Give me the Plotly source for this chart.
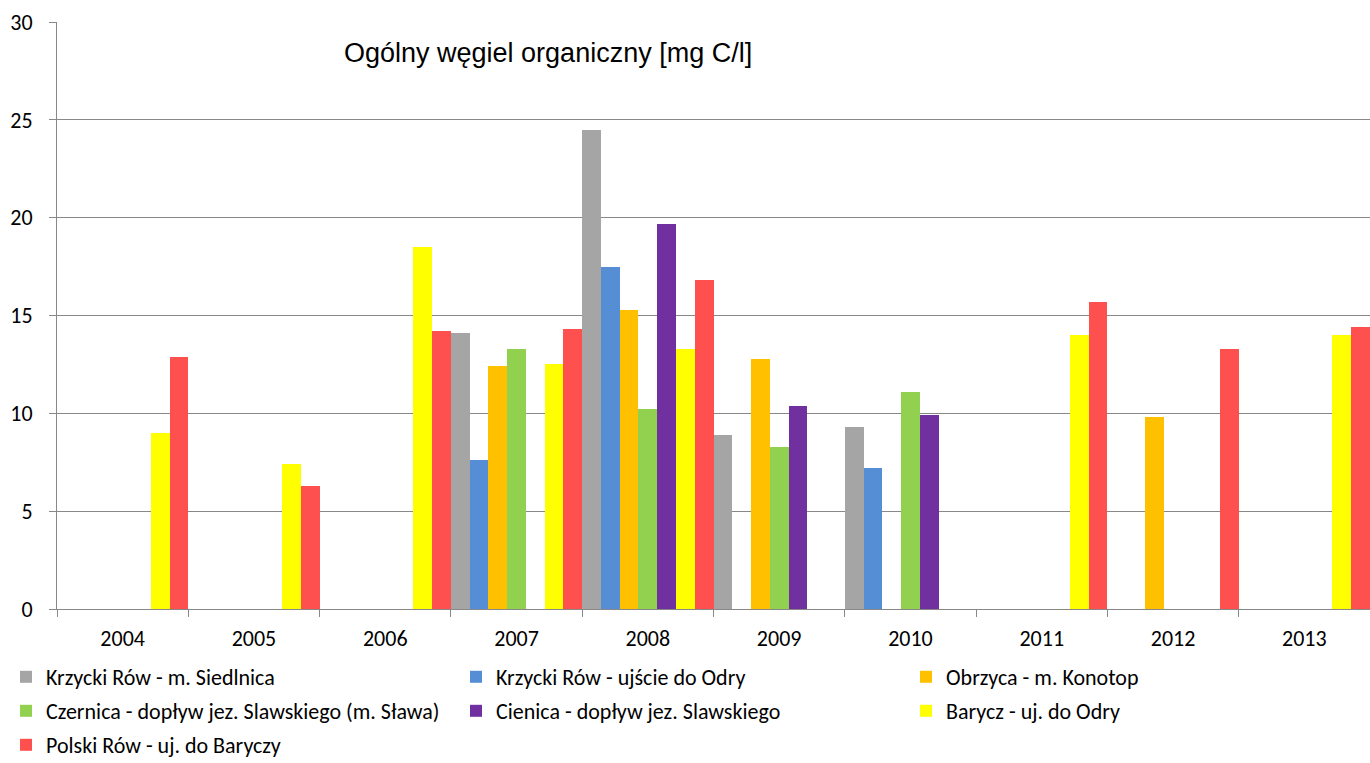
import plotly.graph_objects as go

years = ["2004", "2005", "2006", "2007", "2008", "2009", "2010", "2011", "2012", "2013"]

series_names = [
    "Krzycki Rów - m. Siedlnica",
    "Krzycki Rów - ujście do Odry",
    "Obrzyca - m. Konotop",
    "Czernica - dopływ jez. Slawskiego (m. Sława)",
    "Cienica - dopływ jez. Slawskiego",
    "Barycz - uj. do Odry",
    "Polski Rów - uj. do Baryczy",
]

krzycki_siedlnica = [None, None, None, 14.1, 24.5, 8.9, 9.3, None, None, None]
krzycki_ujscie = [None, None, None, 7.6, 17.5, None, 7.2, None, None, None]
obrzyca = [None, None, None, 12.4, 15.3, 12.8, None, None, 9.8, None]
czernica = [None, None, None, 13.3, 10.2, 8.3, 11.1, None, None, None]
cienica = [None, None, None, None, 19.7, 10.4, 9.9, None, None, None]
barycz = [9.0, 7.4, 18.5, 12.5, 13.3, None, None, 14.0, None, 14.0]
polski_row = [12.9, 6.3, 14.2, 14.3, 16.8, None, None, 15.7, 13.3, 14.4]

values = [krzycki_siedlnica, krzycki_ujscie, obrzyca, czernica, cienica, barycz, polski_row]
colors = ["#A5A5A5", "#558ED5", "#FFC000", "#92D050", "#7030A0", "#FFFF00", "#FF5050"]
legend_rows = ["legend", "legend", "legend", "legend2", "legend2", "legend2", "legend3"]

FONT = "Carlito, Lato, sans-serif"

fig = go.Figure()
for name, vals, col, lg in zip(series_names, values, colors, legend_rows):
    fig.add_trace(go.Bar(x=years, y=vals, name=name, legend=lg,
                         marker=dict(color=col, line=dict(width=0))))

PLOT_L, PLOT_W, PLOT_B, PLOT_H = 57, 1313, 609, 587


def legend_cfg(y_px):
    return dict(
        orientation="h", x=(6 - PLOT_L) / PLOT_W, y=(PLOT_B - y_px) / PLOT_H,
        xanchor="left", yanchor="middle",
        entrywidth=405, entrywidthmode="pixels",
        font=dict(family=FONT, size=22, color="black"),
        itemwidth=30, bgcolor="rgba(0,0,0,0)",
    )


fig.update_layout(
    width=1370, height=763,
    margin=dict(l=57, r=0, t=22, b=154, autoexpand=False),
    barmode="group", bargap=0, bargroupgap=0,
    plot_bgcolor="white", paper_bgcolor="white",
    font=dict(family=FONT, size=20, color="black"),
    showlegend=True,
    legend=legend_cfg(677),
    legend2=legend_cfg(711),
    legend3=legend_cfg(745),
    annotations=[dict(
        text="Ogólny węgiel organiczny [mg C/l]",
        x=(548 - PLOT_L) / PLOT_W, y=(PLOT_B - 53) / PLOT_H, xref="paper", yref="paper",
        showarrow=False, xanchor="center", yanchor="middle",
        font=dict(family="Liberation Sans, Arial, sans-serif", size=27, color="black"),
    )],
)
fig.update_xaxes(
    type="category", showline=True, linecolor="#888888", linewidth=1,
    ticks="outside", tickson="boundaries", ticklen=7, tickcolor="#888888",
    ticklabelstandoff=10,
    showgrid=False, tickfont=dict(family=FONT, size=22, color="black"),
)
fig.update_yaxes(
    range=[0, 30], dtick=5, showline=True, linecolor="#888888", linewidth=1,
    ticks="outside", ticklen=7, tickcolor="#888888", ticklabelstandoff=12,
    showgrid=True, gridcolor="#888888", gridwidth=1, zeroline=False,
    tickfont=dict(family=FONT, size=22, color="black"),
)

fig.write_html("out.html", config={"displayModeBar": False},
               post_script="document.body.style.margin='0';")
